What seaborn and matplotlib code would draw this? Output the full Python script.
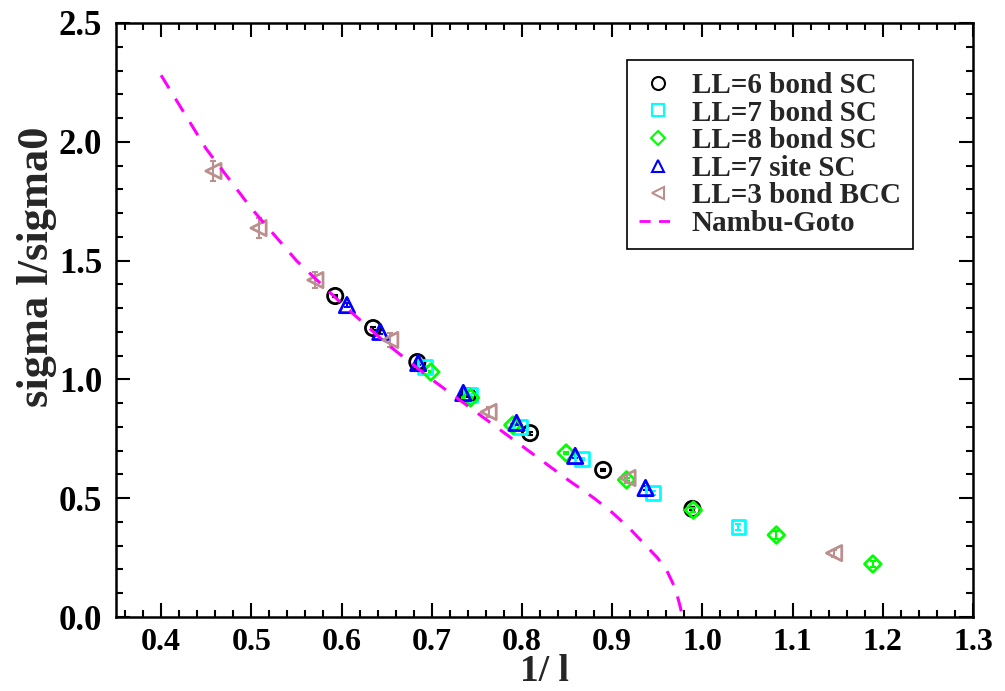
import matplotlib
matplotlib.use("Agg")
import matplotlib.pyplot as plt
from matplotlib.lines import Line2D
from matplotlib.ticker import MultipleLocator
import seaborn as sns
import pandas as pd

# ---- data ----
ll6_x = [0.593, 0.635, 0.684, 0.740, 0.809, 0.890, 0.989]
ll6_y = [1.351, 1.216, 1.073, 0.930, 0.774, 0.619, 0.455]
ll6_e = [0.006, 0.006, 0.006, 0.006, 0.006, 0.006, 0.006]

ll7_x = [0.693, 0.743, 0.798, 0.867, 0.945, 1.040]
ll7_y = [1.052, 0.934, 0.800, 0.665, 0.522, 0.379]
ll7_e = [0.006, 0.006, 0.006, 0.006, 0.008, 0.011]

ll8_x = [0.699, 0.743, 0.790, 0.849, 0.916, 0.990, 1.082, 1.189]
ll8_y = [1.031, 0.922, 0.808, 0.690, 0.577, 0.450, 0.345, 0.223]
ll8_e = [0.006, 0.006, 0.006, 0.006, 0.006, 0.008, 0.016, 0.012]

site7_x = [0.606, 0.643, 0.685, 0.735, 0.794, 0.859, 0.937]
site7_y = [1.313, 1.200, 1.069, 0.943, 0.817, 0.678, 0.543]
site7_e = [0.007, 0.007, 0.007, 0.007, 0.007, 0.007, 0.007]

bcc3_x = [0.458, 0.508, 0.571, 0.654, 0.763, 0.917, 1.146]
bcc3_y = [1.877, 1.637, 1.418, 1.166, 0.863, 0.585, 0.269]
bcc3_e = [0.042, 0.042, 0.035, 0.030, 0.020, 0.020, 0.015]

ng_x = [0.40, 0.45, 0.50, 0.55, 0.60, 0.65, 0.70, 0.75, 0.80, 0.85,
        0.88, 0.90, 0.92, 0.94, 0.95, 0.96, 0.97, 0.975, 0.978]
ng_y = [2.28, 1.97, 1.72, 1.50, 1.32, 1.15, 1.00, 0.86, 0.72, 0.58,
        0.50, 0.44, 0.37, 0.29, 0.25, 0.20, 0.12, 0.05, 0.00]

labels = ["LL=6 bond SC", "LL=7 bond SC", "LL=8 bond SC",
          "LL=7 site SC", "LL=3 bond BCC", "Nambu-Goto"]
colors = ["#000000", "#00FFFF", "#00FF00", "#0000FF", "#BC8F8F", "#FF00FF"]
markers = ["o", "s", "D", "^", "<"]
msizes = [11, 10, 8.5, 11, 11]

series = [(ll6_x, ll6_y, ll6_e), (ll7_x, ll7_y, ll7_e), (ll8_x, ll8_y, ll8_e),
          (site7_x, site7_y, site7_e), (bcc3_x, bcc3_y, bcc3_e)]

sns.set_theme(style="ticks")
plt.rcParams["font.family"] = ["Liberation Serif", "DejaVu Serif"]
plt.rcParams["font.weight"] = "bold"

fig = plt.figure(figsize=(10.05, 6.91), dpi=100)
ax = fig.add_axes([116 / 1005, 74 / 691, 857 / 1005, 594 / 691])

for (sx, sy, se), col, mk, ms, lab in zip(series, colors, markers, msizes, labels):
    ax.errorbar(sx, sy, yerr=se, fmt="none", ecolor=col, elinewidth=1.5,
                capsize=2.5, capthick=1.5, zorder=2)
    df = pd.DataFrame({"x": sx, "y": sy})
    sns.scatterplot(data=df, x="x", y="y", marker=mk, s=ms ** 2, ax=ax,
                    color=col, linewidth=2, zorder=3, legend=False)
    coll = ax.collections[-1]
    coll.set_facecolor("none")
    coll.set_edgecolor(col)

ng_df = pd.DataFrame({"x": ng_x, "y": ng_y})
sns.lineplot(data=ng_df, x="x", y="y", ax=ax, color=colors[5], linewidth=2.2,
             dashes=False, sort=False, zorder=4)
ax.lines[-1].set_dashes([5, 4])

ax.set_xlim(0.35, 1.3)
ax.set_ylim(0.0, 2.5)
ax.xaxis.set_major_locator(MultipleLocator(0.1))
ax.xaxis.set_minor_locator(MultipleLocator(0.02))
ax.yaxis.set_major_locator(MultipleLocator(0.5))
ax.yaxis.set_minor_locator(MultipleLocator(0.1))
ax.set_xticks([0.4, 0.5, 0.6, 0.7, 0.8, 0.9, 1.0, 1.1, 1.2, 1.3])
ax.set_xticklabels(["0.4", "0.5", "0.6", "0.7", "0.8", "0.9", "1.0", "1.1", "1.2", "1.3"])
ax.set_yticks([0.0, 0.5, 1.0, 1.5, 2.0, 2.5])
ax.set_yticklabels(["0.0", "0.5", "1.0", "1.5", "2.0", "2.5"])

ax.tick_params(which="both", direction="in", top=True, right=True, width=1.5,
               colors="black")
ax.tick_params(which="major", length=10, pad=8)
ax.tick_params(which="minor", length=5)
ax.tick_params(axis="x", which="major", labelsize=23)
ax.tick_params(axis="y", which="major", labelsize=25, pad=10)
for lab in ax.get_xticklabels() + ax.get_yticklabels():
    lab.set_fontweight("bold")
for sp in ax.spines.values():
    sp.set_linewidth(1.8)
    sp.set_color("black")

ax.set_xlabel("1/ l", fontsize=27, fontweight="bold", labelpad=-2)
ax.set_ylabel("sigma l/sigma0", fontsize=32, fontweight="bold")
ax.yaxis.set_label_coords(-0.069, 0.59)

handles = []
for col, mk, ms in zip(colors[:5], markers, msizes):
    handles.append(Line2D([], [], linestyle="none", marker=mk, markersize=ms * 0.85,
                          markerfacecolor="none", markeredgecolor=col,
                          markeredgewidth=1.5))
handles.append(Line2D([], [], color=colors[5], linewidth=2, dashes=[4, 3]))

leg = ax.legend(handles, labels, loc="upper left", bbox_to_anchor=(0.596, 0.938),
                borderaxespad=0, frameon=True, fancybox=False, framealpha=1,
                edgecolor="black", prop={"size": 21, "weight": "bold"},
                labelspacing=0.02, handlelength=1.3, handletextpad=0.5,
                borderpad=0.42)
leg.get_frame().set_linewidth(1.2)

fig.savefig("out.png", dpi=100)
